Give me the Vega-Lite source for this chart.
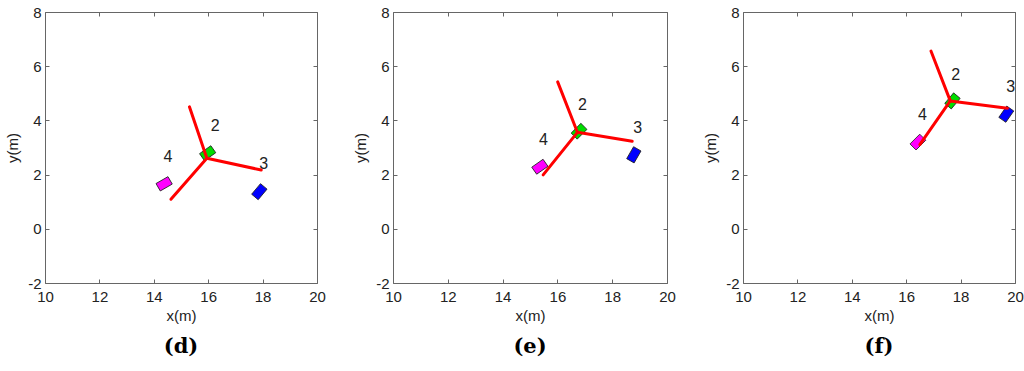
{
  "$schema": "https://vega.github.io/schema/vega-lite/v6.json",
  "padding": {"left": 5, "top": 4, "right": 2, "bottom": 2},
  "spacing": 27,
  "background": "white",
  "config": {
    "view": {"stroke": "#666666", "strokeWidth": 1},
    "axis": {
      "labelFont": "Liberation Sans", "labelFontSize": 15, "labelColor": "#222222",
      "titleFont": "Liberation Sans", "titleFontSize": 15, "titleFontWeight": "normal", "titleColor": "#222222",
      "tickColor": "#666666", "domain": false, "grid": false, "labelFlush": false, "labelOverlap": false
    },
    "title": {"font": "DejaVu Serif", "fontSize": 21, "fontWeight": "bold", "color": "#000000", "orient": "bottom", "offset": 13, "anchor": "middle"}
  },
  "datasets": {
    "arms": [
      {"panel": "d", "arm": "2", "cx": 15.95, "cy": 2.60, "ex": 15.31, "ey": 4.50},
      {"panel": "d", "arm": "3", "cx": 15.95, "cy": 2.60, "ex": 17.95, "ey": 2.17},
      {"panel": "d", "arm": "4", "cx": 15.95, "cy": 2.60, "ex": 14.63, "ey": 1.09},
      {"panel": "e", "arm": "2", "cx": 16.73, "cy": 3.56, "ex": 16.01, "ey": 5.42},
      {"panel": "e", "arm": "3", "cx": 16.73, "cy": 3.56, "ex": 18.73, "ey": 3.23},
      {"panel": "e", "arm": "4", "cx": 16.73, "cy": 3.56, "ex": 15.48, "ey": 1.99},
      {"panel": "f", "arm": "2", "cx": 17.62, "cy": 4.72, "ex": 16.91, "ey": 6.56},
      {"panel": "f", "arm": "3", "cx": 17.62, "cy": 4.72, "ex": 19.72, "ey": 4.45},
      {"panel": "f", "arm": "4", "cx": 17.62, "cy": 4.72, "ex": 16.50, "ey": 3.11}
    ],
    "nodes": [
      {"panel": "d", "node": "2", "x": 15.98, "y": 2.79, "heading": -35},
      {"panel": "d", "node": "3", "x": 17.88, "y": 1.37, "heading": -50},
      {"panel": "d", "node": "4", "x": 14.38, "y": 1.66, "heading": -30},
      {"panel": "e", "node": "2", "x": 16.79, "y": 3.60, "heading": -45},
      {"panel": "e", "node": "3", "x": 18.79, "y": 2.73, "heading": -60},
      {"panel": "e", "node": "4", "x": 15.36, "y": 2.29, "heading": -35},
      {"panel": "f", "node": "2", "x": 17.70, "y": 4.72, "heading": -50},
      {"panel": "f", "node": "3", "x": 19.68, "y": 4.23, "heading": -55},
      {"panel": "f", "node": "4", "x": 16.43, "y": 3.20, "heading": -45}
    ],
    "labels": [
      {"panel": "d", "label": "2", "x": 16.26, "y": 3.79},
      {"panel": "d", "label": "3", "x": 18.04, "y": 2.38},
      {"panel": "d", "label": "4", "x": 14.52, "y": 2.64},
      {"panel": "e", "label": "2", "x": 16.91, "y": 4.57},
      {"panel": "e", "label": "3", "x": 18.93, "y": 3.72},
      {"panel": "e", "label": "4", "x": 15.49, "y": 3.29},
      {"panel": "f", "label": "2", "x": 17.82, "y": 5.68},
      {"panel": "f", "label": "3", "x": 19.84, "y": 5.24},
      {"panel": "f", "label": "4", "x": 16.60, "y": 4.20}
    ]
  },
  "hconcat": [
    {
      "width": 272, "height": 271,
      "title": {"text": "(d)"},
      "resolve": {"axis": {"x": "independent", "y": "independent"}},
      "layer": [
        {
          "data": {"name": "nodes"},
          "transform": [{"filter": "datum.panel == 'd'"}],
          "mark": {"type": "point", "shape": "M-1,-0.62L1,-0.62L1,0.62L-1,0.62Z", "filled": true, "size": 190, "stroke": "#222222", "strokeWidth": 0.8, "opacity": 1},
          "encoding": {
            "x": {"field": "x", "type": "quantitative", "scale": {"domain": [10, 20], "nice": false, "zero": false},
                  "axis": {"orient": "bottom", "values": [10, 12, 14, 16, 18, 20], "tickSize": -4, "labelPadding": 10, "title": "x(m)", "titlePadding": 4, "labelExpr": "'' + datum.value"}},
            "y": {"field": "y", "type": "quantitative", "scale": {"domain": [-2, 8], "nice": false, "zero": false},
                  "axis": {"orient": "left", "values": [-2, 0, 2, 4, 6, 8], "tickSize": -4, "labelPadding": 8, "title": "y(m)", "titlePadding": 7, "labelExpr": "'' + datum.value"}},
            "angle": {"field": "heading", "type": "quantitative", "scale": null},
            "color": {"field": "node", "type": "nominal", "scale": {"domain": ["2", "3", "4"], "range": ["#00dd00", "#0000ff", "#ff00ff"]}, "legend": null}
          }
        },
        {
          "data": {"name": "arms"},
          "transform": [{"filter": "datum.panel == 'd'"}],
          "mark": {"type": "rule", "color": "#ff0000", "strokeWidth": 3, "strokeCap": "round"},
          "encoding": {
            "x": {"field": "cx", "type": "quantitative", "axis": {"orient": "top", "values": [10, 12, 14, 16, 18, 20], "tickSize": -4, "labels": false, "title": null}},
            "y": {"field": "cy", "type": "quantitative", "axis": {"orient": "right", "values": [-2, 0, 2, 4, 6, 8], "tickSize": -4, "labels": false, "title": null}},
            "x2": {"field": "ex"},
            "y2": {"field": "ey"}
          }
        },
        {
          "data": {"name": "labels"},
          "transform": [{"filter": "datum.panel == 'd'"}],
          "mark": {"type": "text", "font": "Liberation Sans", "fontSize": 16, "color": "#222222"},
          "encoding": {
            "x": {"field": "x", "type": "quantitative", "axis": null},
            "y": {"field": "y", "type": "quantitative", "axis": null},
            "text": {"field": "label"}
          }
        }
      ]
    },
    {
      "width": 274, "height": 271,
      "title": {"text": "(e)"},
      "resolve": {"axis": {"x": "independent", "y": "independent"}},
      "layer": [
        {
          "data": {"name": "nodes"},
          "transform": [{"filter": "datum.panel == 'e'"}],
          "mark": {"type": "point", "shape": "M-1,-0.62L1,-0.62L1,0.62L-1,0.62Z", "filled": true, "size": 190, "stroke": "#222222", "strokeWidth": 0.8, "opacity": 1},
          "encoding": {
            "x": {"field": "x", "type": "quantitative", "scale": {"domain": [10, 20], "nice": false, "zero": false},
                  "axis": {"orient": "bottom", "values": [10, 12, 14, 16, 18, 20], "tickSize": -4, "labelPadding": 10, "title": "x(m)", "titlePadding": 4, "labelExpr": "'' + datum.value"}},
            "y": {"field": "y", "type": "quantitative", "scale": {"domain": [-2, 8], "nice": false, "zero": false},
                  "axis": {"orient": "left", "values": [-2, 0, 2, 4, 6, 8], "tickSize": -4, "labelPadding": 8, "title": "y(m)", "titlePadding": 7, "labelExpr": "'' + datum.value"}},
            "angle": {"field": "heading", "type": "quantitative", "scale": null},
            "color": {"field": "node", "type": "nominal", "scale": {"domain": ["2", "3", "4"], "range": ["#00dd00", "#0000ff", "#ff00ff"]}, "legend": null}
          }
        },
        {
          "data": {"name": "arms"},
          "transform": [{"filter": "datum.panel == 'e'"}],
          "mark": {"type": "rule", "color": "#ff0000", "strokeWidth": 3, "strokeCap": "round"},
          "encoding": {
            "x": {"field": "cx", "type": "quantitative", "axis": {"orient": "top", "values": [10, 12, 14, 16, 18, 20], "tickSize": -4, "labels": false, "title": null}},
            "y": {"field": "cy", "type": "quantitative", "axis": {"orient": "right", "values": [-2, 0, 2, 4, 6, 8], "tickSize": -4, "labels": false, "title": null}},
            "x2": {"field": "ex"},
            "y2": {"field": "ey"}
          }
        },
        {
          "data": {"name": "labels"},
          "transform": [{"filter": "datum.panel == 'e'"}],
          "mark": {"type": "text", "font": "Liberation Sans", "fontSize": 16, "color": "#222222"},
          "encoding": {
            "x": {"field": "x", "type": "quantitative", "axis": null},
            "y": {"field": "y", "type": "quantitative", "axis": null},
            "text": {"field": "label"}
          }
        }
      ]
    },
    {
      "width": 272, "height": 271,
      "title": {"text": "(f)"},
      "resolve": {"axis": {"x": "independent", "y": "independent"}},
      "layer": [
        {
          "data": {"name": "nodes"},
          "transform": [{"filter": "datum.panel == 'f'"}],
          "mark": {"type": "point", "shape": "M-1,-0.62L1,-0.62L1,0.62L-1,0.62Z", "filled": true, "size": 190, "stroke": "#222222", "strokeWidth": 0.8, "opacity": 1},
          "encoding": {
            "x": {"field": "x", "type": "quantitative", "scale": {"domain": [10, 20], "nice": false, "zero": false},
                  "axis": {"orient": "bottom", "values": [10, 12, 14, 16, 18, 20], "tickSize": -4, "labelPadding": 10, "title": "x(m)", "titlePadding": 4, "labelExpr": "'' + datum.value"}},
            "y": {"field": "y", "type": "quantitative", "scale": {"domain": [-2, 8], "nice": false, "zero": false},
                  "axis": {"orient": "left", "values": [-2, 0, 2, 4, 6, 8], "tickSize": -4, "labelPadding": 8, "title": "y(m)", "titlePadding": 7, "labelExpr": "'' + datum.value"}},
            "angle": {"field": "heading", "type": "quantitative", "scale": null},
            "color": {"field": "node", "type": "nominal", "scale": {"domain": ["2", "3", "4"], "range": ["#00dd00", "#0000ff", "#ff00ff"]}, "legend": null}
          }
        },
        {
          "data": {"name": "arms"},
          "transform": [{"filter": "datum.panel == 'f'"}],
          "mark": {"type": "rule", "color": "#ff0000", "strokeWidth": 3, "strokeCap": "round"},
          "encoding": {
            "x": {"field": "cx", "type": "quantitative", "axis": {"orient": "top", "values": [10, 12, 14, 16, 18, 20], "tickSize": -4, "labels": false, "title": null}},
            "y": {"field": "cy", "type": "quantitative", "axis": {"orient": "right", "values": [-2, 0, 2, 4, 6, 8], "tickSize": -4, "labels": false, "title": null}},
            "x2": {"field": "ex"},
            "y2": {"field": "ey"}
          }
        },
        {
          "data": {"name": "labels"},
          "transform": [{"filter": "datum.panel == 'f'"}],
          "mark": {"type": "text", "font": "Liberation Sans", "fontSize": 16, "color": "#222222"},
          "encoding": {
            "x": {"field": "x", "type": "quantitative", "axis": null},
            "y": {"field": "y", "type": "quantitative", "axis": null},
            "text": {"field": "label"}
          }
        }
      ]
    }
  ]
}
